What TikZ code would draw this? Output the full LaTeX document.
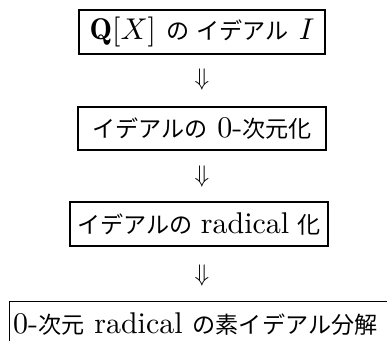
\documentclass[tikz,border=0pt]{standalone}
\usepackage{fontspec}
\newfontfamily\cjk{Noto Sans CJK JP}[Scale=0.77]
\newcommand\mybig[1]{\scalebox{3}{\fontsize{10}{12}\selectfont #1}}
\newcommand\myarrow{\scalebox{2.4}{\fontsize{10}{12}\selectfont$\Downarrow$}}
\begin{document}
\begin{tikzpicture}[x=1pt,y=-1pt,
  box/.style={draw,line width=1.2pt,inner sep=0pt},
  implies/.style={inner sep=0pt}]
\clip (0,0) rectangle (387,340);
\fill[white] (0,0) rectangle (387,340);
\node[box,minimum width=246pt,minimum height=44pt] (b1) at (202,32)
  {\mybig{$\mathbf{Q}[X]$ {\cjk の}\hspace{0.25em}{\cjk イデアル} $I$}};
\node[implies] (a1) at (202,79) {\myarrow};
\node[box,minimum width=248pt,minimum height=43pt] (b2) at (202,128.5)
  {\mybig{{\cjk イデアルの} 0-{\cjk 次元化}}};
\node[implies] (a2) at (202,176) {\myarrow};
\node[box,minimum width=258pt,minimum height=44pt] (b3) at (199,224)
  {\mybig{{\cjk イデアルの}\hspace{0.28em}radical\hspace{0.28em}{\cjk 化}}};
\node[implies] (a3) at (202,275) {\myarrow};
\node[box,anchor=north west,text width=420pt,align=left,minimum height=44pt,inner xsep=3.5pt] (b4) at (9,301)
  {\mybig{0-{\cjk 次元} radical {\cjk の素イデアル分解}}};
\end{tikzpicture}
\end{document}
